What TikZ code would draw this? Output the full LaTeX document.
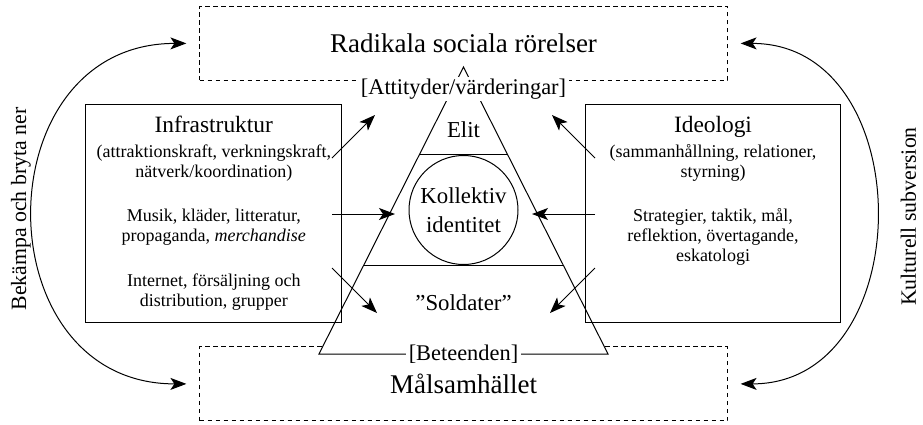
\documentclass[tikz,border=0pt]{standalone}
\usepackage{fontspec}
\setmainfont{Liberation Serif}
\usetikzlibrary{positioning, arrows.meta, calc}

\newcommand{\headfont}{\fontsize{11.7}{14}\selectfont}

\begin{document}
\begin{tikzpicture}[
	  x=0.5pt, y=-0.5pt,
	  line width=0.5pt,
	  inner sep=0pt,
	  zone/.style={
	    draw,
	    dash pattern=on 2.2pt off 1.8pt,
	    minimum width=264pt,
	    minimum height=37pt,
	    font=\fontsize{13.5}{16}\selectfont
	  },
	  pillar/.style={draw, minimum width=127.85pt, minimum height=108.85pt},
	  pillartext/.style={align=center, font=\fontsize{9}{10}\selectfont},
	  tierlabel/.style={font=\fontsize{11.4}{14.2}\selectfont},
	  bracketlabel/.style={fill=white, inner xsep=1.5pt, inner ysep=1pt, font=\fontsize{11.2}{13}\selectfont},
	  sidelabel/.style={rotate=90, font=\fontsize{10.9}{13}\selectfont},
	  arrow/.style={-{Stealth[length=8pt,width=6pt,inset=2pt]}},
	  twoway/.style={{Stealth[length=8pt,width=6pt,inset=2pt]}-{Stealth[length=8pt,width=6pt,inset=2pt]},
	    shorten <=6.3pt, shorten >=6.3pt}
	]
	\useasboundingbox (0,0) rectangle (923,424);

	% --- Target zones ---
	\node[zone] (radikal) at (463.5,43.4) {Radikala sociala rörelser};
	\node[zone] (malsam) at (463.5,383.9) {Målsamhället};

	% --- Triangle ---
	\coordinate (apex) at (463.5,67);
	\coordinate (baseL) at (319,354);
	\coordinate (baseR) at (608,354);
	\draw[fill=white] (apex) -- (baseL) -- (baseR) -- cycle;
	\draw ($(apex)!0.3066!(baseL)$) -- ($(apex)!0.3066!(baseR)$);
	\draw ($(apex)!0.69!(baseL)$) -- ($(apex)!0.69!(baseR)$);

	\node[tierlabel] (elit) at (463.5,130) {Elit};
	\node[tierlabel, circle, draw, align=center, minimum size=54.5pt] (kollektiv) at (463.5,210) {Kollektiv\\identitet};
	\node[tierlabel] (soldater) at (463.5,303) {”Soldater”};

	% --- Pillars ---
	\node[pillar] (infra) at (213.8,213.8) {};
	\node[pillar] (ideologi) at (713,213.8) {};
	\node[pillartext, below=5.5pt of infra.north] (infratext) {{\headfont Infrastruktur}\\[2.5pt]
	  (attraktionskraft, verkningskraft,\\ nätverk/koordination)\\[12.25pt]
	  Musik, kläder, litteratur,\\ propaganda, \emph{merchandise}\\[12.25pt]
	  Internet, försäljning och\\ distribution, grupper};
	\node[pillartext, below=5.5pt of ideologi.north] (ideologitext) {{\headfont Ideologi}\\[2.5pt]
	  (sammanhållning, relationer,\\ styrning)\\[12.25pt]
	  Strategier, taktik, mål,\\ reflektion, övertagande,\\ eskatologi};

	% --- Labels on the zones ---
	\node[bracketlabel] (attityd) at (463.5,89) {[Attityder/värderingar]};
	\node[bracketlabel] (beteende) at (463.5,354) {[Beteenden]};

	% --- Side labels ---
	\node[sidelabel] (bekampa) at (21,209) {Bekämpa och bryta ner};
	\node[sidelabel] (subversion) at (908.5,216.5) {Kulturell subversion};

	% --- Flows ---
	\coordinate (infraA) at (332,158);
	\coordinate (infraB) at (332,214);
	\coordinate (infraC) at (332,268);
	\coordinate (ideoA) at (595,158);
	\coordinate (ideoB) at (595,214);
	\coordinate (ideoC) at (595,268);
	\coordinate (toElitL) at (375,115);
	\coordinate (toCoreL) at (395,214);
	\coordinate (toBaseL) at (377,313);
	\coordinate (toElitR) at (552,115);
	\coordinate (toCoreR) at (532,214);
	\coordinate (toBaseR) at (550,313);

	\draw[arrow] (infraA) -- (toElitL);
	\draw[arrow] (infraB) -- (toCoreL);
	\draw[arrow] (infraC) -- (toBaseL);
	\draw[arrow] (ideoA) -- (toElitR);
	\draw[arrow] (ideoB) -- (toCoreR);
	\draw[arrow] (ideoC) -- (toBaseR);

	\draw[twoway] (radikal.west) to[out=180,in=180,looseness=1.63] (malsam.west);
	\draw[twoway] (radikal.east) to[out=0,in=0,looseness=1.45] (malsam.east);

\end{tikzpicture}
\end{document}
